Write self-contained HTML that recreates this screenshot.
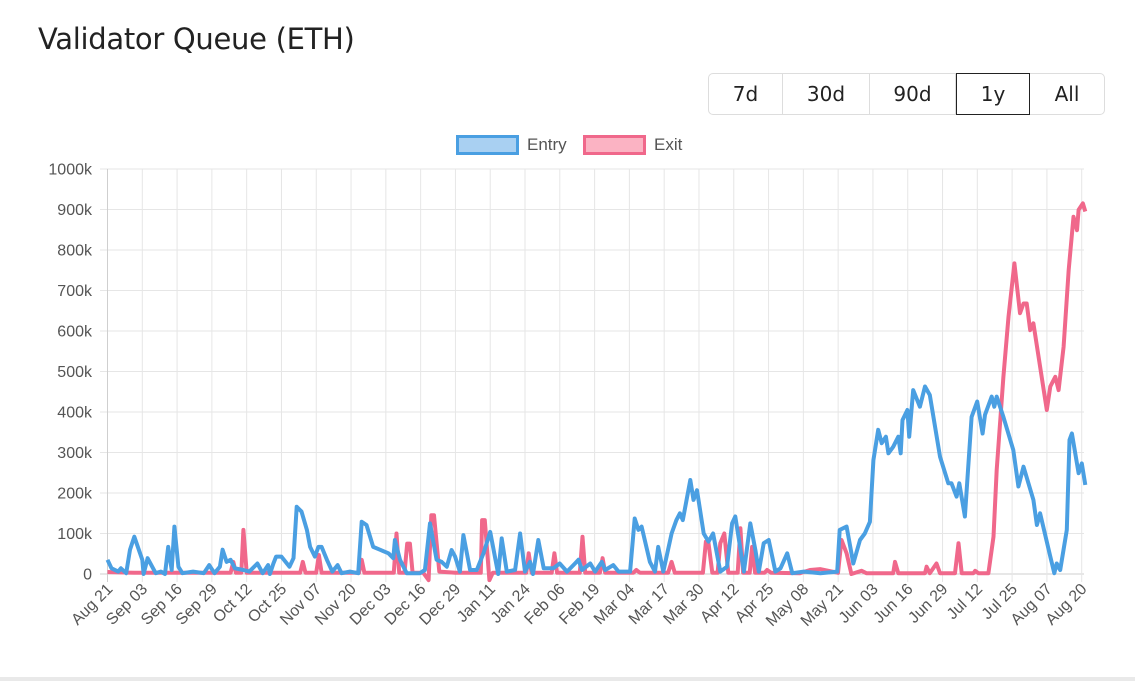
<!DOCTYPE html>
<html><head><meta charset="utf-8">
<style>
body{margin:0;background:#fff;font-family:"Liberation Sans",sans-serif;}
#wrap{position:relative;width:1135px;height:681px;overflow:hidden;}
h1{position:absolute;left:38px;top:22px;margin:0;font-weight:400;font-size:29px;color:#222;font-family:"DejaVu Sans","Liberation Sans",sans-serif;letter-spacing:-0.3px}
.btns{position:absolute;left:708px;top:73px;display:flex;border:1px solid #ddd;border-radius:5px;height:40px;}
.btn{font-size:20px;color:#222;display:flex;align-items:center;justify-content:center;border-right:1px solid #ddd;box-sizing:border-box;height:40px;font-family:"DejaVu Sans","Liberation Sans",sans-serif}
.btn:last-child{border-right:none}
.btn.active{border:1px solid #222;height:42px;margin-top:-1px}
#bottom{position:absolute;left:0;top:677px;width:1135px;height:4px;background:#e9e9e9}
svg text{font-family:"Liberation Sans",Arial,sans-serif;}
</style></head><body>
<div id="wrap">
<h1>Validator Queue (ETH)</h1>
<div class="btns">
<div class="btn" style="width:74px">7d</div>
<div class="btn" style="width:87px">30d</div>
<div class="btn" style="width:86px">90d</div>
<div class="btn active" style="width:74px">1y</div>
<div class="btn" style="width:74px">All</div>
</div>
<svg id="chart" width="1135" height="681" style="position:absolute;left:0;top:0"></svg>
<div id="bottom"></div>
</div>
<script>
const xTickLabels=["Aug 21","Sep 03","Sep 16","Sep 29","Oct 12","Oct 25","Nov 07","Nov 20","Dec 03","Dec 16","Dec 29","Jan 11","Jan 24","Feb 06","Feb 19","Mar 04","Mar 17","Mar 30","Apr 12","Apr 25","May 08","May 21","Jun 03","Jun 16","Jun 29","Jul 12","Jul 25","Aug 07","Aug 20"];
const yTickValues=[0,100,200,300,400,500,600,700,800,900,1000];
const entryDays=[0,1.5,4,5,7,8.4,10,13,13.5,15,18,20,21.5,22.7,24,25,26.5,28,32,36,38,40,42,43,44.5,46,47.6,50.8,53,56,58,60,60.7,62,63,65,68,69.5,70.7,72.5,74.5,75.7,77.5,78.8,80,82,84,86,87.5,90.6,93.7,95,96.8,99.3,101.8,105,106.8,107.4,109.3,111.8,116.7,118.6,120.5,123,124.9,126.8,128.6,129.9,131.7,133,135.5,138,140.5,143,146,147.3,149.2,152.3,154.2,156,157.9,159,161,163,166.6,169,171.7,174.7,176,177.3,180.4,182.2,184.7,186,189,191,195.3,197,198.4,199.6,202.7,204.6,205.8,207.7,210.8,212.6,213.9,215,217.8,219,220.3,222.8,224.6,226.3,229,231.5,233.4,234.6,237.8,240.2,242.1,243.4,245.2,247.1,249.6,251.5,254,255.9,260.2,266.4,272.7,273.6,276.2,278.7,281.2,283,284.9,286.2,288,289.3,290.9,291.8,293.6,295.5,296.4,297.1,298.9,299.6,301.1,303.6,305.5,307.3,311.1,314.2,315.4,317.3,318.3,320.4,322.9,325,327,327.9,330.4,331.4,332.3,334.8,338.5,340.4,342.3,346,347.3,348.5,352.3,353.8,354.7,356,358.5,359.5,360.4,362.9,364.1,365.4];
const entryValues=[35,14,6,14,2,60,92,35,0,39,2,6,0,67,10,117,18,2,6,2,22,2,18,60,30,35,14,10,6,26,2,22,0,26,43,43,18,39,166,154,109,67,43,67,67,35,6,22,2,6,2,129,121,67,60,51,39,84,35,2,2,10,125,35,30,18,59,43,6,96,10,10,51,104,0,88,6,10,100,6,30,0,84,14,14,26,6,26,35,10,26,6,30,10,22,6,6,137,109,117,30,6,67,6,100,133,150,133,232,183,207,100,80,100,6,18,125,142,6,125,59,6,76,84,6,14,51,2,6,2,6,109,117,26,84,100,129,281,356,323,339,298,314,339,298,380,405,339,454,413,463,442,290,224,224,191,224,142,388,426,347,393,438,413,438,388,306,216,265,183,121,150,43,2,26,10,109,331,347,249,273,220];
const exitDays=[0,10,20,30,40,46,47,48,50,50.8,52,60,70,72,73,74,78,79,80,90,94,95,96,106,107,108,109,111,112,113,114,118,120,121,122,124,130,139.5,140,141,142.7,144,150,156.5,157.4,158.5,166,167,168,176.5,177.5,178.5,184,185,186,196.5,197.6,199,209.5,210.8,212,222.5,223.6,224.5,226,228,229,230.5,232,235.5,236.5,237.5,240,240.9,242,245.5,246.5,248,258.8,262.5,266.3,273,274.3,276.2,278,281.8,283.6,293.6,294.3,295.5,305.5,306.1,307.3,309.8,311.1,316.7,318,319.2,323.6,324.2,325.5,329.2,331.1,332.3,334.8,336.7,338.9,341,342.3,343.5,344.8,346,351,352.3,354.2,355.4,357.3,359.2,361,362.3,362.9,364.5,365.4];
const exitValues=[5,3,3,3,3,3,30,3,3,109,3,3,3,3,30,3,3,47,3,3,3,35,3,3,3,100,3,3,75,75,3,3,-15,145,145,6,3,3,133,133,-15,3,3,3,51,3,3,51,3,3,92,3,3,39,3,3,10,3,3,30,3,3,80,80,3,3,76,100,3,3,113,3,3,67,3,3,10,3,2,10,12,3,84,51,0,8,2,2,30,2,2,18,2,26,2,2,76,2,2,8,2,2,92,257,487,635,767,644,668,668,602,619,405,463,487,454,561,751,882,849,899,915,895];

const NS="http://www.w3.org/2000/svg";
const svg=document.getElementById('chart');
const X0=107.5,PX=2.676,Y0=574,PY=0.405;
function xs(d){return X0+d*PX;}
function ys(v){return Y0-v*PY;}
function mk(tag,attrs){const e=document.createElementNS(NS,tag);for(const k in attrs)e.setAttribute(k,attrs[k]);svg.appendChild(e);return e;}
yTickValues.forEach(v=>{
  const l=mk('line',{x1:100,x2:1084,y1:ys(v),y2:ys(v),stroke:v===0?'#cfcfcf':'#e6e6e6','stroke-width':1});
  
  
  const t=mk('text',{x:92,y:ys(v)+5.5,'text-anchor':'end','font-size':16,fill:'#555'});
  t.textContent=v===0?'0':v+'k';
  
  
});
xTickLabels.forEach((lab,i)=>{
  const x=X0+i*13*(974.2/364);
  const l=mk('line',{x1:x,x2:x,y1:169,y2:582,stroke:i===0?'#cfcfcf':'#e6e6e6','stroke-width':1});
  
  
  const t=mk('text',{x:0,y:0,'text-anchor':'end','font-size':16,fill:'#555',transform:`translate(${x+6},${590}) rotate(-45)`});
  t.textContent=lab;
  
  
});
function series(days,vals,color,name){
  const pts=days.map((d,i)=>xs(d).toFixed(1)+','+ys(vals[i]).toFixed(1)).join(' ');
  const p=mk('polyline',{points:pts,fill:'none',stroke:color,'stroke-width':4,'stroke-linejoin':'round'});
  
  
}
series(exitDays,exitValues,'#f0688b','exit-line');
series(entryDays,entryValues,'#4a9fe2','entry-line');
const lg=[{x:456,label:'Entry',stroke:'#4a9fe2',fill:'#a9d0f2',n:'legend-entry'},{x:583,label:'Exit',stroke:'#f0688b',fill:'#fbb3c3',n:'legend-exit'}];
lg.forEach(o=>{
  const r=mk('rect',{x:o.x+1.5,y:136.5,width:60,height:17,fill:o.fill,stroke:o.stroke,'stroke-width':3});
  
  
  const t=mk('text',{x:o.x+71,y:150,'font-size':17,fill:'#555'});
  t.textContent=o.label;
  
  
});
</script>
</body></html>
